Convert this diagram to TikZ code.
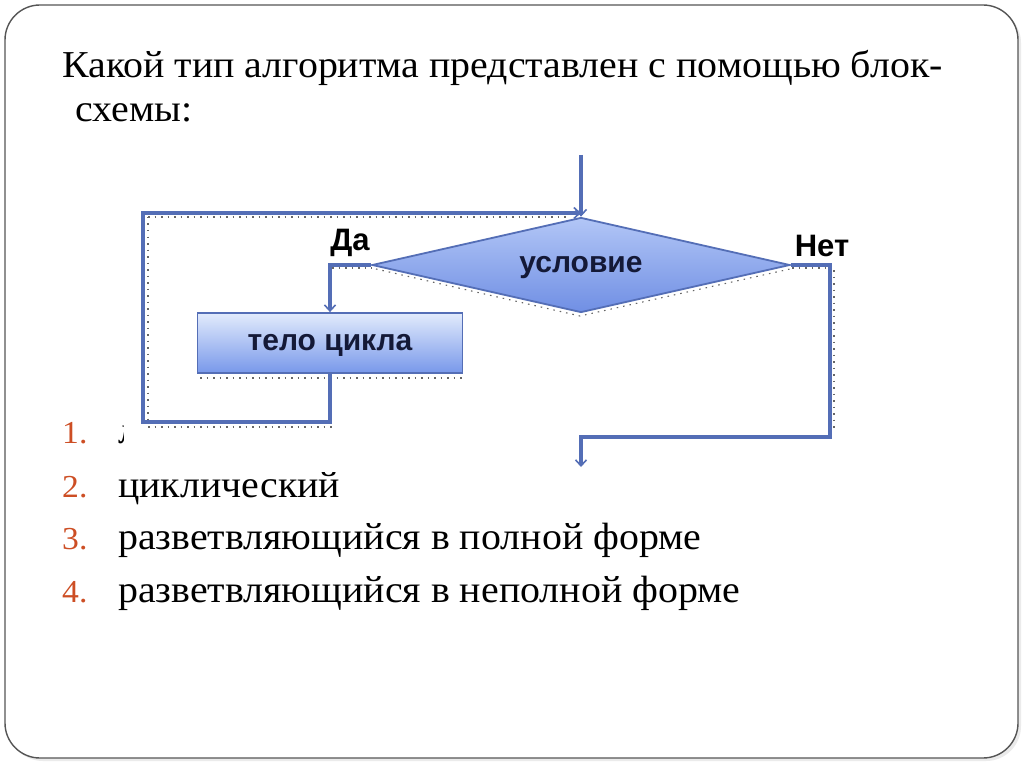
\documentclass[tikz,border=0pt]{standalone}
\usepackage{fontspec}
\setmainfont{Liberation Serif}[FakeStretch=1.05]
\newfontfamily\lsans{Liberation Sans}
\usetikzlibrary{arrows.meta,shapes.geometric}
\definecolor{flowline}{RGB}{84,110,182}
\definecolor{numcol}{RGB}{205,78,36}
\definecolor{frame}{RGB}{85,85,85}
\tikzset{
  txt/.style={inner sep=0pt, anchor=base west},
  title/.style={txt, font=\fontsize{38}{44}\selectfont},
  item/.style={txt, font=\fontsize{38}{44}\selectfont},
  num/.style={txt, font=\fontsize{32}{40}\selectfont, text=numcol},
  flow/.style={draw=flowline, line width=3.2pt},
  arr/.style={-{Straight Barb[length=6pt,width=11pt,line width=1.6pt]}},
  shad/.style={draw=black!60, line width=1.1pt, dash pattern=on 1.5pt off 5pt},
  lbl/.style={inner sep=0pt, font=\lsans\bfseries\fontsize{31}{34}\selectfont},
  decision/.style={diamond, draw=flowline, line width=1.8pt, inner sep=0pt,
    minimum width=418pt, minimum height=95pt, aspect=4.4,
    text height=15pt, text depth=0pt,
    top color={rgb,255:red,178;green,198;blue,246}, bottom color={rgb,255:red,112;green,143;blue,228},
    font=\lsans\bfseries\fontsize{30}{32}\selectfont, text={rgb,255:red,20;green,25;blue,55}},
  process/.style={rectangle, draw=flowline, line width=1.8pt, inner sep=0pt,
    minimum width=265pt, minimum height=60pt,
    text height=15pt, text depth=0pt,
    top color={rgb,255:red,226;green,235;blue,252}, bottom color={rgb,255:red,120;green,152;blue,234},
    font=\lsans\bfseries\fontsize{30}{32}\selectfont, text={rgb,255:red,20;green,25;blue,55}},
  imgbg/.style={fill=white, draw=none},
}
\begin{document}
\begin{tikzpicture}[x=1pt,y=-1pt]
\useasboundingbox (0,0) rectangle (1024,767);
\fill[white] (0,0) rectangle (1024,767);
% slide frame with faint shadow
\fill[black!8, rounded corners=35pt] (8,8) rectangle (1021,761);
\draw[frame, line width=1.4pt, fill=white, rounded corners=35pt] (5,5) rectangle (1018,758);
% title
\node[title] (t1) at (62,78) {Какой тип алгоритма представлен с помощью блок-};
\node[title] (t2) at (75,122) {схемы:};
% answers
\node[num] (n1) at (62,443) {1.};
\node[item] (a1) at (118,443) {линейный};
\node[num] (n2) at (62,497) {2.};
\node[item] (a2) at (118,497) {циклический};
\node[num] (n3) at (62,549) {3.};
\node[item] (a3) at (118,549) {разветвляющийся в полной форме};
\node[num] (n4) at (62,602) {4.};
\node[item] (a4) at (118,602) {разветвляющийся в неполной форме};
% picture background (covers answer 1)
\fill[imgbg] (124,148) rectangle (870,472);
% shadow artefacts of the pasted picture
\draw[shad] (148,217) -- (570,217);
\draw[shad] (148,217) -- (148,419);
\draw[shad] (148,427) -- (332,427);
\draw[shad] (200,378) -- (463,378);
\draw[shad] (332,268) -- (372,268);
\draw[shad] (376,269) -- (580,316) -- (790,269);
\draw[shad] (792,268) -- (826,268);
\draw[shad] (834,270) -- (834,430);
% flowchart
\node[decision] (cond) at (581,265) {условие};
\node[process] (body) at (330,343) {тело цикла};
\coordinate (start) at (581,155);
\coordinate (lb) at (143,422);
\coordinate (lt) at (143,213);
\coordinate (rc) at (830,437);
\coordinate (exit) at (581,467);
\draw[flow, arr] (start) -- (cond.north);
\draw[flow, arr] (cond.west) -| (body.north);
\draw[flow, arr] (body.south) |- (lb) -- (lt) -- (lt -| cond.north);
\draw[flow, arr] (cond.east) -| (rc) -| (exit);
\node[lbl] (yes) at (350,243) {Да};
\node[lbl] (no) at (822,246) {Нет};
\end{tikzpicture}
\end{document}
